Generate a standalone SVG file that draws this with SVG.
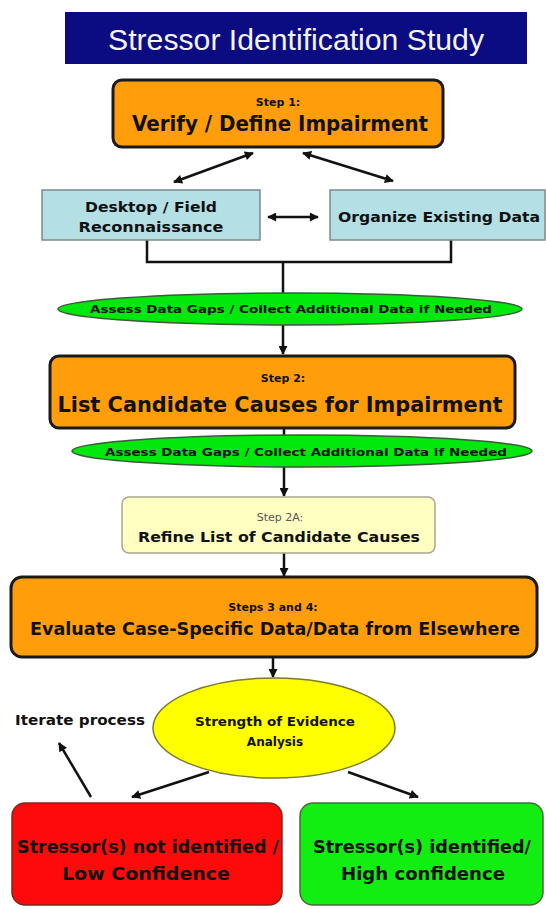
<svg xmlns="http://www.w3.org/2000/svg" width="546" height="909" viewBox="0 0 546 909">
<defs>
<marker id="ah" viewBox="0 0 10 10" refX="9" refY="5" markerWidth="10" markerHeight="9" markerUnits="userSpaceOnUse" orient="auto-start-reverse">
<path d="M0,0 L10,5 L0,10 z" fill="#111"/>
</marker>
<style>
.t{font-family:"DejaVu Sans","Liberation Sans",sans-serif;font-weight:bold;fill:#111;text-anchor:middle}
.c{stroke:#111;stroke-width:2.5;fill:none}
.step{fill:#ff9d0a;stroke:#1a1a1a;stroke-width:3}
</style>
</defs>
<rect width="546" height="909" fill="#ffffff"/>

<g id="connectors">
<line class="c" x1="253" y1="153" x2="174" y2="182" marker-start="url(#ah)" marker-end="url(#ah)"/>
<line class="c" x1="303" y1="153" x2="393" y2="181" marker-start="url(#ah)" marker-end="url(#ah)"/>
<line class="c" x1="268" y1="217" x2="318" y2="217" marker-start="url(#ah)" marker-end="url(#ah)"/>
<polyline class="c" points="147,240 147,262 451,262 451,240"/>
<line class="c" x1="283" y1="262" x2="283" y2="354" marker-end="url(#ah)"/>
<line class="c" x1="284" y1="428" x2="284" y2="496" marker-end="url(#ah)"/>
<line class="c" x1="284" y1="553" x2="284" y2="576" marker-end="url(#ah)"/>
<line class="c" x1="273" y1="657" x2="273" y2="677" marker-end="url(#ah)"/>
<line class="c" x1="209" y1="772" x2="132" y2="797" marker-end="url(#ah)"/>
<line class="c" x1="348" y1="772" x2="418" y2="797" marker-end="url(#ah)"/>
<line class="c" x1="91" y1="797" x2="59" y2="743" stroke-width="2" marker-end="url(#ah)"/>
</g>

<g id="title">
<rect x="65" y="12" width="462" height="52" fill="#0b0b82"/>
<text x="296" y="50" font-family="Liberation Sans, Arial, sans-serif" font-size="29" fill="#f4f4f4" text-anchor="middle" textLength="376" lengthAdjust="spacingAndGlyphs">Stressor Identification Study</text>
</g>

<g id="step1">
<rect class="step" x="113" y="80" width="330" height="67" rx="9"/>
<text class="t" x="278" y="106" font-size="11">Step 1:</text>
<text class="t" x="280" y="131" font-size="21" textLength="296" lengthAdjust="spacingAndGlyphs">Verify / Define Impairment</text>
</g>

<g id="desktop">
<rect x="42" y="190" width="218" height="50" fill="#b3dfe5" stroke="#7a8a8c" stroke-width="1.5"/>
<text class="t" x="151" y="212" font-size="14" textLength="132" lengthAdjust="spacingAndGlyphs">Desktop / Field</text>
<text class="t" x="151" y="232" font-size="14" textLength="145" lengthAdjust="spacingAndGlyphs">Reconnaissance</text>
</g>

<g id="organize">
<rect x="330" y="190" width="215" height="50" fill="#b3dfe5" stroke="#7a8a8c" stroke-width="1.5"/>
<text class="t" x="439" y="222" font-size="14" textLength="202" lengthAdjust="spacingAndGlyphs">Organize Existing Data</text>
</g>

<g id="gaps1">
<ellipse cx="290" cy="309" rx="232" ry="16" fill="#00e80c" stroke="#3a5a3a" stroke-width="1.5"/>
<text class="t" x="291" y="313" font-size="11" textLength="402" lengthAdjust="spacingAndGlyphs">Assess Data Gaps / Collect Additional Data if Needed</text>
</g>

<g id="step2">
<rect class="step" x="50" y="356" width="465" height="72" rx="9"/>
<text class="t" x="283" y="382" font-size="11">Step 2:</text>
<text class="t" x="280" y="412" font-size="22" textLength="445" lengthAdjust="spacingAndGlyphs">List Candidate Causes for Impairment</text>
</g>

<g id="gaps2">
<ellipse cx="302" cy="451" rx="230" ry="16" fill="#00e80c" stroke="#3a5a3a" stroke-width="1.5"/>
<text class="t" x="306" y="456" font-size="11" textLength="402" lengthAdjust="spacingAndGlyphs">Assess Data Gaps / Collect Additional Data if Needed</text>
</g>

<g id="step2a">
<rect x="122" y="497" width="313" height="56" rx="7" fill="#ffffc2" stroke="#a8a890" stroke-width="1.5"/>
<text x="280" y="521" font-family="DejaVu Sans, sans-serif" font-size="11" fill="#555" text-anchor="middle">Step 2A:</text>
<text class="t" x="279" y="542" font-size="14" textLength="282" lengthAdjust="spacingAndGlyphs">Refine List of Candidate Causes</text>
</g>

<g id="step3">
<rect class="step" x="11" y="577" width="526" height="80" rx="11"/>
<text class="t" x="273" y="611" font-size="11">Steps 3 and 4:</text>
<text class="t" x="275" y="635" font-size="18" textLength="490" lengthAdjust="spacingAndGlyphs">Evaluate Case-Specific Data/Data from Elsewhere</text>
</g>

<g id="evidence">
<ellipse cx="274" cy="728" rx="121" ry="50" fill="#ffff00" stroke="#7a7a30" stroke-width="1.5"/>
<text class="t" x="275" y="726" font-size="12" textLength="160" lengthAdjust="spacingAndGlyphs">Strength of Evidence</text>
<text class="t" x="275" y="746" font-size="12">Analysis</text>
</g>

<g id="iterate">
<text class="t" x="80" y="725" font-size="14" textLength="130" lengthAdjust="spacingAndGlyphs">Iterate process</text>
</g>

<g id="notidentified">
<rect x="12" y="803" width="270" height="102" rx="13" fill="#ff0a0a" stroke="#7a2a1a" stroke-width="1.5"/>
<text class="t" x="148" y="853" font-size="17" textLength="262" lengthAdjust="spacingAndGlyphs">Stressor(s) not identified /</text>
<text class="t" x="146" y="880" font-size="17" textLength="168" lengthAdjust="spacingAndGlyphs">Low Confidence</text>
</g>

<g id="identified">
<rect x="300" y="803" width="243" height="102" rx="13" fill="#12ee12" stroke="#4a6a3a" stroke-width="1.5"/>
<text class="t" x="422" y="853" font-size="17" textLength="218" lengthAdjust="spacingAndGlyphs">Stressor(s) identified/</text>
<text class="t" x="423" y="880" font-size="17" textLength="164" lengthAdjust="spacingAndGlyphs">High confidence</text>
</g>
</svg>
